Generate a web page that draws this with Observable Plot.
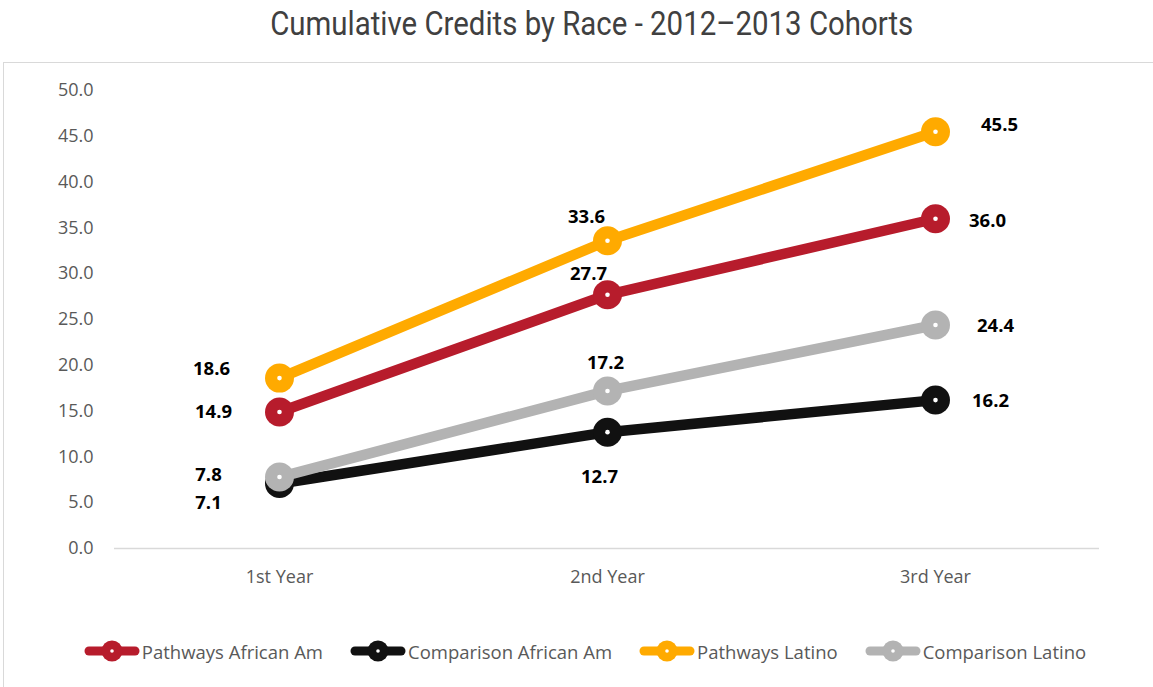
<!DOCTYPE html>
<html>
<head>
<meta charset="utf-8">
<script src="https://cdn.jsdelivr.net/npm/d3@7"></script>
<script src="https://cdn.jsdelivr.net/npm/@observablehq/plot@0.6"></script>
<style>
  html, body { margin: 0; padding: 0; background: #fff; width: 1153px; height: 687px; overflow: hidden; }
  #title { position: absolute; left: 0; width: 1183px; top: 3px; text-align: center;
           font-family: Roboto, sans-serif; font-size: 34px; color: #404040; }
  #title span { display: inline-block; transform: scaleX(0.865); transform-origin: center; }
  #box { position: absolute; left: 3px; top: 62px; width: 1170px; height: 640px; border: 1px solid #d9d9d9; }
  #chart { position: absolute; left: 0; top: 62px; }
  #legend { position: absolute; left: 0; top: 638px; width: 1153px; display: flex; justify-content: center;
            font-family: "Open Sans", sans-serif; font-size: 18.5px; color: #595959; padding-left: 44px; box-sizing: border-box; }
  .item { display: flex; align-items: center; margin-right: 27px; }
  .item svg { margin-right: 2px; }
</style>
</head>
<body>
<div id="title"><span>Cumulative Credits by Race - 2012–2013 Cohorts</span></div>
<div id="box"></div>
<div id="chart"></div>
<div id="legend"></div>
<script>
const years = ["1st Year", "2nd Year", "3rd Year"];
const seriesNames = ["Pathways African Am", "Comparison African Am", "Pathways Latino", "Comparison Latino"];
const pathwaysAfricanAm = [14.9, 27.7, 36.0];
const comparisonAfricanAm = [7.1, 12.7, 16.2];
const pathwaysLatino = [18.6, 33.6, 45.5];
const comparisonLatino = [7.8, 17.2, 24.4];
const yTicks = [0, 5, 10, 15, 20, 25, 30, 35, 40, 45, 50];

const colors = ["#B71C2C", "#111111", "#FFAA00", "#B3B3B3"];
// label placement (pixel offsets from each point), per series, per year
const labelOffsets = [
  [[-66, 0], [-19, -21], [52, 2]],
  [[-71, 20], [-8, 45], [55, 1]],
  [[-68, -9], [-21, -24], [64, -7]],
  [[-71, -2], [-2, -28], [60, 1]]
];

const allSeries = [pathwaysAfricanAm, comparisonAfricanAm, pathwaysLatino, comparisonLatino];
const rows = [];
allSeries.forEach((vals, si) => vals.forEach((v, i) => rows.push({
  series: seriesNames[si], year: years[i], value: v, si, dx: labelOffsets[si][i][0], dy: labelOffsets[si][i][1]
})));

const marks = [Plot.ruleY([0], {stroke: "#d9d9d9", strokeWidth: 1.5})];
seriesNames.forEach((name, si) => {
  const d = rows.filter(r => r.si === si);
  marks.push(Plot.line(d, {x: "year", y: "value", stroke: colors[si], strokeWidth: 10.5, strokeLinecap: "round"}));
  marks.push(Plot.dot(d, {x: "year", y: "value", r: 14.5, fill: colors[si], stroke: null}));
  marks.push(Plot.dot(d, {x: "year", y: "value", r: 2.3, fill: "#fff", stroke: null}));
});
rows.forEach(r => {
  marks.push(Plot.text([r], {x: "year", y: "value", text: d => d.value.toFixed(1), dx: r.dx, dy: r.dy,
    fontWeight: "bold", fontSize: 18.5, fill: "#000"}));
});

const chart = Plot.plot({
  width: 1153,
  height: 560,
  marginTop: 28,
  marginBottom: 74,
  marginLeft: 114,
  marginRight: 54,
  style: {fontFamily: "'Open Sans', sans-serif", fontSize: "18px", color: "#595959", background: "transparent", overflow: "visible"},
  x: {type: "point", domain: years, padding: 0.5, label: null, tickSize: 0, tickPadding: 22},
  y: {domain: [0, 50], ticks: yTicks, tickFormat: d => d.toFixed(1), label: null, tickSize: 0, tickPadding: 21},
  marks
});
document.getElementById("chart").appendChild(chart);

const legend = document.getElementById("legend");
seriesNames.forEach((name, si) => {
  const item = document.createElement("div");
  item.className = "item";
  const svg = d3.create("svg").attr("width", 56).attr("height", 26);
  svg.append("line").attr("x1", 5).attr("x2", 51).attr("y1", 13).attr("y2", 13)
     .attr("stroke", colors[si]).attr("stroke-width", 9).attr("stroke-linecap", "round");
  svg.append("circle").attr("cx", 28).attr("cy", 13).attr("r", 10.5).attr("fill", colors[si]);
  svg.append("circle").attr("cx", 28).attr("cy", 13).attr("r", 1.8).attr("fill", "#fff");
  item.appendChild(svg.node());
  const t = document.createElement("span");
  t.textContent = name;
  item.appendChild(t);
  legend.appendChild(item);
});
</script>
</body>
</html>
